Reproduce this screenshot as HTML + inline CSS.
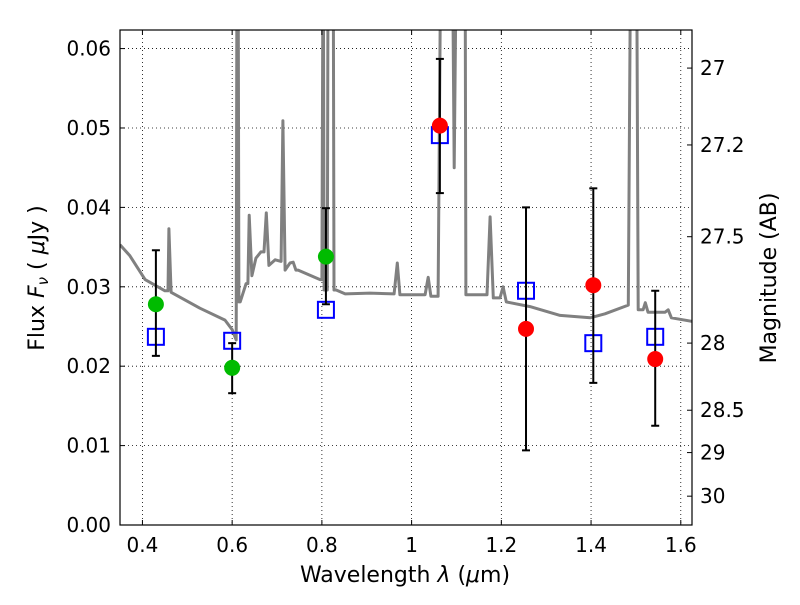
<!DOCTYPE html>
<html><head><meta charset="utf-8"><style>
body{margin:0;background:#fff}
svg{font-family:"DejaVu Sans","Liberation Sans",sans-serif}
</style></head><body>
<svg id="chart" width="800" height="600" viewBox="0 0 800 600" xmlns="http://www.w3.org/2000/svg">
<rect width="800" height="600" fill="#fff"/>
<g id="grid"></g>
<defs><clipPath id="clip"><rect x="120" y="30" width="572" height="495"/></clipPath></defs>
<g id="marks" clip-path="url(#clip)"></g>
<rect x="120" y="30" width="572" height="495" fill="none" stroke="#000" stroke-width="1.2"/>
<g id="axes"></g>
<text x="405" y="582" font-size="22" text-anchor="middle">Wavelength  <tspan font-style="italic">λ</tspan> (<tspan font-style="italic">μ</tspan>m)</text>
<text transform="translate(44,278) rotate(-90)" font-size="22" text-anchor="middle">Flux  <tspan font-style="italic">F</tspan><tspan font-style="italic" font-size="15" dy="4">ν</tspan><tspan dy="-4">  (  </tspan><tspan font-style="italic">μ</tspan>Jy )</text>
<text transform="translate(776,278) rotate(-90)" font-size="22" text-anchor="middle">Magnitude (AB)</text>
</svg>
<script>
const specLam=[0.350,0.372,0.406,0.450,0.457,0.459,0.464,0.528,0.584,0.600,0.609,0.611,0.613,0.615,0.618,0.631,0.635,0.638,0.644,0.653,0.664,0.671,0.676,0.682,0.696,0.709,0.713,0.718,0.729,0.736,0.742,0.747,0.796,0.800,0.803,0.805,0.812,0.814,0.825,0.827,0.832,0.852,0.907,0.961,0.968,0.974,1.030,1.037,1.043,1.059,1.066,1.090,1.095,1.101,1.119,1.121,1.168,1.175,1.182,1.197,1.204,1.211,1.264,1.331,1.398,1.431,1.483,1.489,1.501,1.505,1.516,1.521,1.527,1.565,1.572,1.579,1.629];
const specFlux=[0.0353,0.0339,0.0309,0.0295,0.0295,0.0373,0.0293,0.0273,0.0258,0.0246,0.0233,0.08,0.08,0.0281,0.0281,0.0304,0.0304,0.0390,0.0314,0.0336,0.0344,0.0344,0.0393,0.0327,0.0334,0.0332,0.0509,0.0321,0.0330,0.0331,0.0321,0.0321,0.0309,0.0309,0.08,0.0296,0.0296,0.08,0.08,0.0296,0.0296,0.0291,0.0292,0.0291,0.0330,0.0290,0.0290,0.0312,0.0288,0.0288,0.08,0.08,0.0450,0.08,0.08,0.0290,0.0290,0.0388,0.0286,0.0286,0.0300,0.0281,0.0275,0.0264,0.0261,0.0266,0.0277,0.08,0.08,0.0271,0.0271,0.0280,0.0268,0.0268,0.0271,0.0261,0.0256];
const photLam=[0.430,0.600,0.809,1.063,1.255,1.405,1.543];
const photFlux=[0.0278,0.0198,0.0338,0.0503,0.0247,0.0302,0.0209];
const photHi=[0.0346,0.0229,0.0399,0.0587,0.0400,0.0424,0.0295];
const photLo=[0.0213,0.0166,0.0278,0.0418,0.0094,0.0179,0.0125];
const photColor=['#00bb00','#00bb00','#00bb00','#ff0000','#ff0000','#ff0000','#ff0000'];
const modelFlux=[0.0237,0.0232,0.0271,0.0491,0.0295,0.0229,0.0237];
const xTicks=[0.4,0.6,0.8,1.0,1.2,1.4,1.6];
const xTickLabels=['0.4','0.6','0.8','1','1.2','1.4','1.6'];
const yTicks=[0,0.01,0.02,0.03,0.04,0.05,0.06];
const yTickLabels=['0.00','0.01','0.02','0.03','0.04','0.05','0.06'];
const magTicks=[27,27.2,27.5,28,28.5,29,30];
const magTickLabels=['27','27.2','27.5','28','28.5','29','30'];

const X0=120,X1=692,Y0=525,Y1=30,XMIN=0.35,XMAX=1.625,YMAX=0.06234;
const xs=v=>X0+(v-XMIN)/(XMAX-XMIN)*(X1-X0);
const ys=v=>Y0-v/YMAX*(Y0-Y1);
const magToFlux=m=>Math.pow(10,(23.9-m)/2.5);
const NS='http://www.w3.org/2000/svg';
function mk(parent,tag,attrs){const e=document.createElementNS(NS,tag);for(const k in attrs)e.setAttribute(k,attrs[k]);parent.appendChild(e);return e;}
const grid=document.getElementById('grid'),marks=document.getElementById('marks'),axes=document.getElementById('axes');

xTicks.forEach((t,i)=>{
  const x=xs(t);
  const g=mk(grid,'line',{x1:x,x2:x,y1:Y1,y2:Y0,stroke:'#000','stroke-width':0.8,'stroke-dasharray':'1,3'});
  
  
  mk(axes,'line',{x1:x,x2:x,y1:Y0,y2:Y0-5,stroke:'#000'});
  mk(axes,'line',{x1:x,x2:x,y1:Y1,y2:Y1+5,stroke:'#000'});
  const tx=mk(axes,'text',{x:x,y:Y0+27,'font-size':20,'text-anchor':'middle'});
  tx.textContent=xTickLabels[i];
  
  
});
yTicks.forEach((t,i)=>{
  const y=ys(t);
  const g=mk(grid,'line',{x1:X0,x2:X1,y1:y,y2:y,stroke:'#000','stroke-width':0.8,'stroke-dasharray':'1,3'});
  
  
  mk(axes,'line',{x1:X0,x2:X0+5,y1:y,y2:y,stroke:'#000'});
  const tx=mk(axes,'text',{x:X0-9,y:y+7,'font-size':20,'text-anchor':'end'});
  tx.textContent=yTickLabels[i];
  
  
});
magTicks.forEach((m,i)=>{
  const y=ys(magToFlux(m));
  mk(axes,'line',{x1:X1,x2:X1-5,y1:y,y2:y,stroke:'#000'});
  const tx=mk(axes,'text',{x:X1+8,y:y+7,'font-size':20,'text-anchor':'start'});
  tx.textContent=magTickLabels[i];
  
  
});

const pts=specLam.map((l,i)=>xs(l).toFixed(1)+','+ys(specFlux[i]).toFixed(1)).join(' ');
const sp=mk(marks,'polyline',{points:pts,fill:'none',stroke:'#808080','stroke-width':3,'stroke-linejoin':'round'});



photLam.forEach((l,i)=>{
  const x=xs(l);
  const sq=mk(marks,'rect',{x:x-8,y:ys(modelFlux[i])-8,width:16,height:16,fill:'none',stroke:'#0000ff','stroke-width':2});
  
  
  const eb=mk(marks,'g',{stroke:'#000','stroke-width':2});
  
  
  mk(eb,'line',{x1:x,x2:x,y1:ys(photHi[i]),y2:ys(photLo[i])});
  mk(eb,'line',{x1:x-4,x2:x+4,y1:ys(photHi[i]),y2:ys(photHi[i])});
  mk(eb,'line',{x1:x-4,x2:x+4,y1:ys(photLo[i]),y2:ys(photLo[i])});
  const c=mk(marks,'circle',{cx:x,cy:ys(photFlux[i]),r:8,fill:photColor[i]});
  
  
});
</script>
</body></html>
